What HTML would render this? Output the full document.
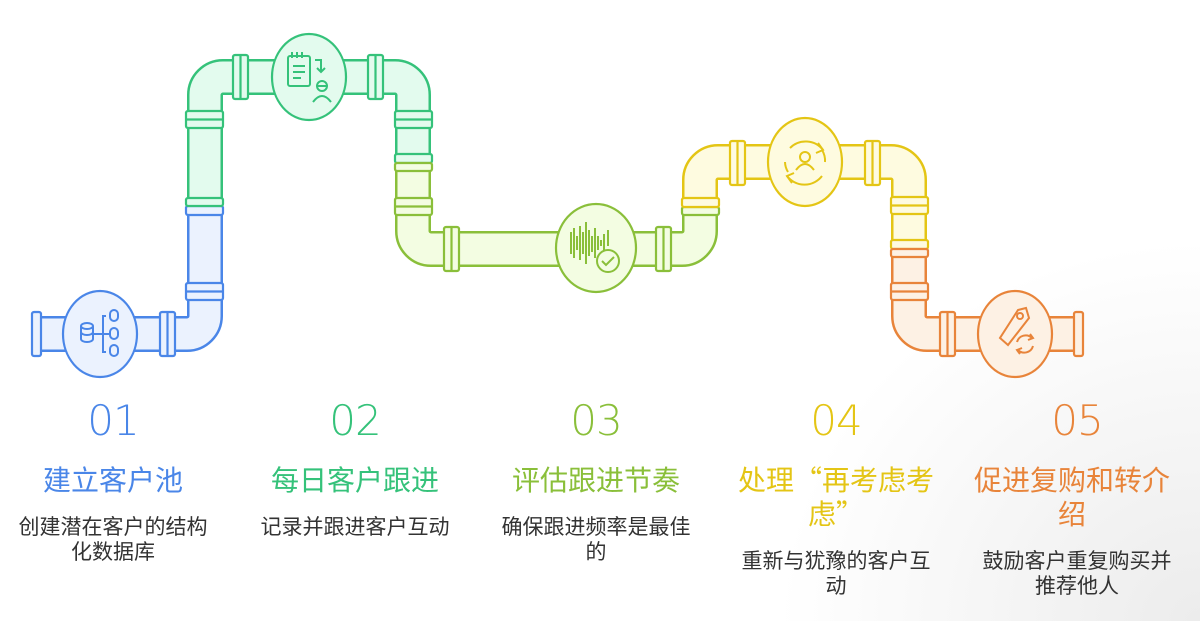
<!DOCTYPE html>
<html><head><meta charset="utf-8">
<style>
html,body{margin:0;padding:0;}
body{width:1200px;height:621px;position:relative;overflow:hidden;font-family:"Liberation Sans","Noto Sans CJK SC",sans-serif;background:radial-gradient(ellipse 420px 380px at 1200px 621px,#ececec,#ffffff);}
.num{position:absolute;width:220px;text-align:center;top:396px;font-size:42px;font-weight:300;font-family:"DejaVu Sans","Liberation Sans",sans-serif;letter-spacing:-1px;line-height:50px;}
.t{position:absolute;width:220px;text-align:center;top:462px;font-size:28px;line-height:34px;font-family:"Noto Sans CJK SC",sans-serif;}
.d{position:absolute;width:200px;text-align:center;top:514px;font-size:21px;line-height:25px;color:#333;font-family:"Noto Sans CJK SC",sans-serif;}
</style></head><body>
<svg width="1200" height="621" style="position:absolute;left:0;top:0" fill="none">
<path d="M36 334 H187 A18 18 0 0 0 205 316 V207" stroke="#4a86e8" stroke-width="36"/>
<path d="M36 334 H187 A18 18 0 0 0 205 316 V207" stroke="#ebf2fe" stroke-width="31"/>
<path d="M205 207 V95 A18 18 0 0 1 223 77 H395 A18 18 0 0 1 413 95 V163" stroke="#35c27a" stroke-width="36"/>
<path d="M205 207 V95 A18 18 0 0 1 223 77 H395 A18 18 0 0 1 413 95 V163" stroke="#e3fbee" stroke-width="31"/>
<path d="M413 163 V231 A18 18 0 0 0 431 249 H682 A18 18 0 0 0 700 231 V206" stroke="#8abf3a" stroke-width="36"/>
<path d="M413 163 V231 A18 18 0 0 0 431 249 H682 A18 18 0 0 0 700 231 V206" stroke="#f3fde2" stroke-width="31"/>
<path d="M700 206 V180 A18 18 0 0 1 718 162 H891 A18 18 0 0 1 909 180 V249" stroke="#e4c515" stroke-width="36"/>
<path d="M700 206 V180 A18 18 0 0 1 718 162 H891 A18 18 0 0 1 909 180 V249" stroke="#fefbe0" stroke-width="31"/>
<path d="M909 249 V316 A18 18 0 0 0 927 334 H1078" stroke="#e8843a" stroke-width="36"/>
<path d="M909 249 V316 A18 18 0 0 0 927 334 H1078" stroke="#fdf1e4" stroke-width="31"/>

<g stroke-width="2.2">
<rect x="32" y="312" width="9" height="44" rx="2" fill="#ebf2fe" stroke="#4a86e8"/>
<rect x="1074" y="312" width="9" height="44" rx="2" fill="#fdf1e4" stroke="#e8843a"/>
<g fill="#ebf2fe" stroke="#4a86e8"><rect x="160" y="312" width="15" height="44" rx="2"/><line x1="167.5" y1="312" x2="167.5" y2="356"/></g>
<g fill="#e3fbee" stroke="#35c27a"><rect x="233" y="55" width="15" height="44" rx="2"/><line x1="240.5" y1="55" x2="240.5" y2="99"/>
<rect x="368" y="55" width="15" height="44" rx="2"/><line x1="375.5" y1="55" x2="375.5" y2="99"/></g>
<g fill="#f3fde2" stroke="#8abf3a"><rect x="444" y="227" width="15" height="44" rx="2"/><line x1="451.5" y1="227" x2="451.5" y2="271"/>
<rect x="656" y="227" width="15" height="44" rx="2"/><line x1="663.5" y1="227" x2="663.5" y2="271"/></g>
<g fill="#fefbe0" stroke="#e4c515"><rect x="730" y="141" width="15" height="44" rx="2"/><line x1="737.5" y1="141" x2="737.5" y2="185"/>
<rect x="865" y="141" width="15" height="44" rx="2"/><line x1="872.5" y1="141" x2="872.5" y2="185"/></g>
<g fill="#fdf1e4" stroke="#e8843a"><rect x="940" y="312" width="15" height="44" rx="2"/><line x1="947.5" y1="312" x2="947.5" y2="356"/></g>
<g fill="#ebf2fe" stroke="#4a86e8"><rect x="186" y="283" width="37" height="17" rx="2"/><line x1="186" y1="291.5" x2="223" y2="291.5"/>
<rect x="186" y="206" width="37" height="9" rx="2"/></g>
<g fill="#e3fbee" stroke="#35c27a"><rect x="186" y="198" width="37" height="8" rx="2"/>
<rect x="186" y="111" width="37" height="17" rx="2"/><line x1="186" y1="119.5" x2="223" y2="119.5"/>
<rect x="395" y="111" width="37" height="17" rx="2"/><line x1="395" y1="119.5" x2="432" y2="119.5"/>
<rect x="395" y="154" width="37" height="9" rx="2"/></g>
<g fill="#f3fde2" stroke="#8abf3a"><rect x="395" y="163" width="37" height="8" rx="2"/>
<rect x="395" y="198" width="37" height="17" rx="2"/><line x1="395" y1="206.5" x2="432" y2="206.5"/>
<rect x="682" y="207" width="37" height="8" rx="2"/></g>
<g fill="#fefbe0" stroke="#e4c515"><rect x="682" y="198" width="37" height="9" rx="2"/>
<rect x="891" y="197" width="37" height="17" rx="2"/><line x1="891" y1="205.5" x2="928" y2="205.5"/>
<rect x="891" y="240" width="37" height="9" rx="2"/></g>
<g fill="#fdf1e4" stroke="#e8843a"><rect x="891" y="249" width="37" height="8" rx="2"/>
<rect x="891" y="283" width="37" height="17" rx="2"/><line x1="891" y1="291.5" x2="928" y2="291.5"/></g>
<ellipse cx="100" cy="334" rx="37" ry="43" fill="#ebf2fe" stroke="#4a86e8"/>
<ellipse cx="309" cy="77" rx="37" ry="43" fill="#e3fbee" stroke="#35c27a"/>
<ellipse cx="596" cy="248" rx="40" ry="44" fill="#f3fde2" stroke="#8abf3a"/>
<ellipse cx="805" cy="162" rx="37" ry="44" fill="#fefbe0" stroke="#e4c515"/>
<ellipse cx="1015" cy="334" rx="37" ry="43" fill="#fdf1e4" stroke="#e8843a"/>
</g>
<g stroke="#4a86e8" stroke-width="2" fill="none">
<ellipse cx="87" cy="326" rx="6" ry="3"/><path d="M81 326 V339 A6 3 0 0 0 93 339 V326 M81 332 A6 3 0 0 0 93 332"/>
<path d="M93 334 H110 M106 316 H103 V352 H106"/>
<rect x="110" y="310" width="8" height="11" rx="4"/><rect x="110" y="328" width="8" height="11" rx="4"/><rect x="110" y="345" width="8" height="11" rx="4"/>
</g>
<g stroke="#35c27a" stroke-width="2" fill="none">
<rect x="288" y="56" width="22" height="30" rx="2"/><path d="M292 52 V58 M297 52 V58 M302 52 V58 M293 66 H305 M293 72 H305 M293 78 H301"/>
<path d="M315 60 H321 V72 M317 68 L321 72 L325 68"/>
<circle cx="322" cy="86" r="5"/><path d="M313 102 Q322 90 331 102 M317 86 H327"/>
</g>
<g stroke="#8abf3a" stroke-width="2" fill="none">
<path d="M571 232 V254 M574 228 V258 M577 236 V250 M580 226 V260 M583 232 V254 M586 222 V264 M589 230 V256 M592 236 V252 M595 228 V258 M598 236 V250 M601 240 V246 M604 234 V252 M608 230 V246"/>
<circle cx="608" cy="261" r="11" fill="#f3fde2"/><path d="M602 261 L606 265 L614 257"/>
</g>
<g stroke="#e4c515" stroke-width="2" fill="none">
<path d="M823 150 A22 22 0 0 0 790 148 M787 176 A22 22 0 0 0 822 176"/>
<path d="M818 143 L823 150 L816 153 M792 183 L787 176 L794 173"/>
<path d="M785 162 A20 20 0 0 0 788 172 M825 162 A20 20 0 0 0 822 150"/>
<circle cx="805" cy="157" r="5"/><path d="M796 170 Q805 158 814 170"/>
</g>
<g stroke="#e8843a" stroke-width="2" fill="none">
<path d="M1018 310 L1026 308 L1029 318 L1008 345 L1000 338 Z"/>
<circle cx="1020" cy="316" r="3"/>
<path d="M1032 338 A9 9 0 0 0 1017 342 M1018 350 A9 9 0 0 0 1033 346"/>
<path d="M1030 334 L1033 338 L1028 340 M1020 354 L1017 350 L1022 348"/>
</g>
</svg>

<div class="num" style="left:3px;color:#4a86e8">01</div>
<div class="num" style="left:245px;color:#35c27a">02</div>
<div class="num" style="left:486px;color:#8abf3a">03</div>
<div class="num" style="left:726px;color:#e4c515">04</div>
<div class="num" style="left:967px;color:#e8843a">05</div>

<div class="t" style="left:3px;color:#4a86e8">建立客户池</div>
<div class="t" style="left:245px;color:#35c27a">每日客户跟进</div>
<div class="t" style="left:486px;color:#8abf3a">评估跟进节奏</div>
<div class="t" style="left:736px;width:200px;color:#e4c515">处理“再考虑考虑”</div>
<div class="t" style="left:967px;width:210px;color:#e8843a">促进复购和转介绍</div>

<div class="d" style="left:13px">创建潜在客户的结构化数据库</div>
<div class="d" style="left:255px">记录并跟进客户互动</div>
<div class="d" style="left:496px">确保跟进频率是最佳的</div>
<div class="d" style="left:736px;top:548px">重新与犹豫的客户互动</div>
<div class="d" style="left:977px;top:548px">鼓励客户重复购买并推荐他人</div>
</body></html>
